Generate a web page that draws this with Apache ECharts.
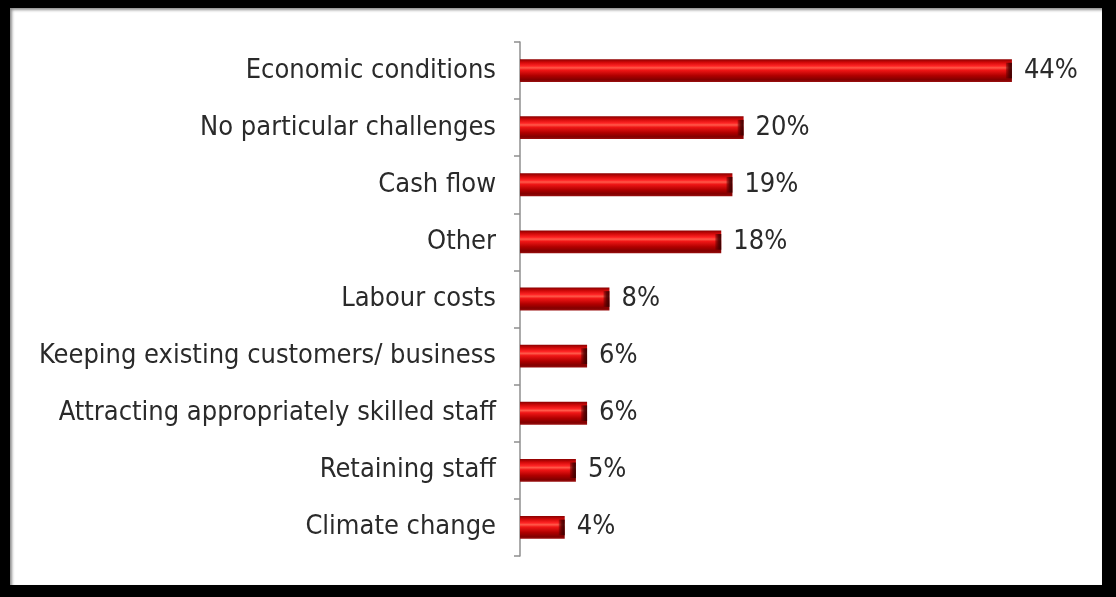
<!DOCTYPE html>
<html>
<head>
<meta charset="utf-8">
<script src="https://cdn.jsdelivr.net/npm/echarts@6/dist/echarts.min.js"></script>
<style>
  html, body { margin: 0; padding: 0; background: #000; width: 1116px; height: 597px; overflow: hidden; }
  #frame { position: absolute; left: 10px; top: 8px; width: 1092px; height: 577px; background: #fff;
           box-shadow: inset 2px 2px 3px rgba(0,0,0,0.45); }
  #chart { position: absolute; left: 0; top: 0; width: 1092px; height: 577px; }
</style>
</head>
<body>
<div id="frame"><div id="chart"></div></div>
<script>
// Main business challenges, share of respondents (%)
const categories = [
  'Economic conditions',
  'No particular challenges',
  'Cash flow',
  'Other',
  'Labour costs',
  'Keeping existing customers/ business',
  'Attracting appropriately skilled staff',
  'Retaining staff',
  'Climate change'
];
const shares = [44, 20, 19, 18, 8, 6, 6, 5, 4];

const FONT = '"DejaVu Sans Condensed", "DejaVu Sans", sans-serif';

const chart = echarts.init(document.getElementById('chart'), null, { renderer: 'canvas' });

// Cylinder-like shading for each bar
const barFill = new echarts.graphic.LinearGradient(0, 0, 0, 1, [
  { offset: 0, color: '#8a0000' },
  { offset: 0.15, color: '#d40a0a' },
  { offset: 0.3, color: '#ff2424' },
  { offset: 0.38, color: '#ff5a4a' },
  { offset: 0.48, color: '#f01616' },
  { offset: 0.72, color: '#b00000' },
  { offset: 0.9, color: '#820000' },
  { offset: 1, color: '#9a1010' }
]);
// Darker end cap
const capFill = new echarts.graphic.LinearGradient(0, 0, 1, 0, [
  { offset: 0, color: 'rgba(90,0,0,0.35)' },
  { offset: 0.5, color: 'rgba(80,0,0,0.85)' },
  { offset: 1, color: 'rgba(50,0,0,0.95)' }
]);

chart.setOption({
  backgroundColor: 'transparent',
  animation: false,
  grid: { left: 510, right: 23, top: 34, bottom: 29, containLabel: false },
  xAxis: {
    type: 'value', min: 0, max: 50,
    show: false
  },
  yAxis: {
    type: 'category',
    data: categories,
    inverse: true,
    axisLine: { show: true, lineStyle: { color: '#8f8f8f', width: 1.5 } },
    axisTick: { show: true, length: 6, lineStyle: { color: '#8f8f8f', width: 1.5 } },
    axisLabel: {
      margin: 24,
      color: '#2a2a2a',
      fontFamily: FONT,
      fontSize: 27
    },
    splitLine: { show: false }
  },
  series: [{
    type: 'bar',
    data: shares,
    barWidth: '40%',
    itemStyle: {
      color: barFill
    },
    label: {
      show: true,
      position: 'right',
      distance: 12,
      formatter: '{c}%',
      color: '#2a2a2a',
      fontFamily: FONT,
      fontSize: 27
    },
    z: 2
  }, {
    type: 'pictorialBar',
    data: shares,
    symbol: 'rect',
    symbolPosition: 'end',
    symbolSize: [6, '40%'],
    barGap: '-100%',
    itemStyle: { color: capFill },
    silent: true,
    z: 3
  }]
});
</script>
</body>
</html>
